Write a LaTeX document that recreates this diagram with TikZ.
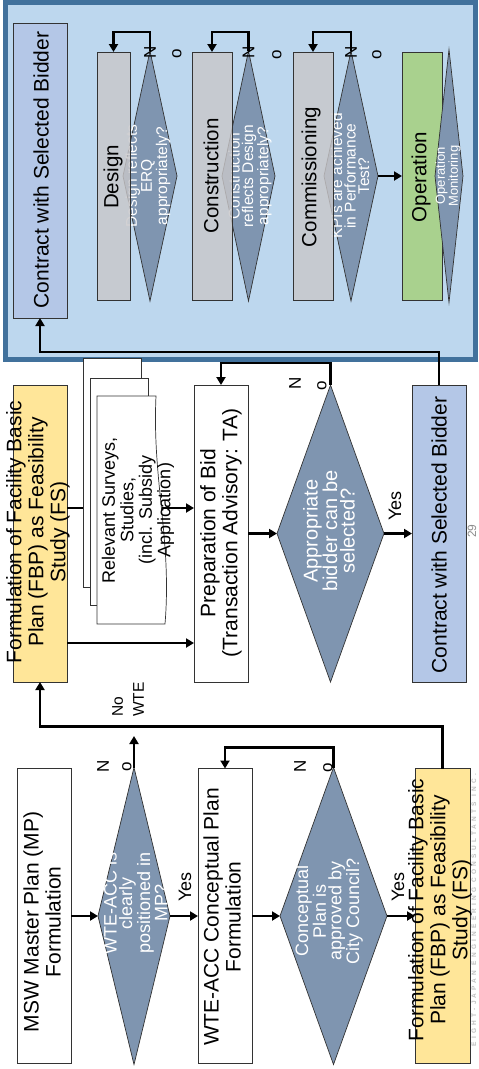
\documentclass[tikz,border=0pt]{standalone}
\usepackage{fontspec}
\setmainfont{Liberation Sans}
\newfontfamily\wmfont[LetterSpace=50]{Liberation Sans}
\usetikzlibrary{arrows.meta,shapes.geometric,calc}
\definecolor{diafill}{RGB}{127,149,176}
\definecolor{yel}{RGB}{255,230,153}
\definecolor{bluebox}{RGB}{180,199,231}
\definecolor{panelfill}{RGB}{189,215,238}
\definecolor{panelborder}{RGB}{65,113,156}
\definecolor{grayb}{RGB}{201,199,201}
\definecolor{greenb}{RGB}{169,209,142}
\newcommand\fsBig{\fontsize{21}{22}\selectfont}
\newcommand\fsDia{\fontsize{18}{15.5}\selectfont}
\newcommand\fsDiaB{\fontsize{20}{17.5}\selectfont}
\newcommand\fsDoc{\fontsize{18}{18.5}\selectfont}
\newcommand\fsPd{\fontsize{15.5}{13.5}\selectfont}
\newcommand\fsPbox{\fontsize{20.5}{22}\selectfont}
\newcommand\fsOpm{\fontsize{13}{13}\selectfont}
\newcommand\fsN{\fontsize{17}{17}\selectfont}
\newcommand\fsYes{\fontsize{18}{18}\selectfont}
\newcommand\fsNo{\fontsize{15.5}{21}\selectfont}
\tikzset{
 shp/.style={draw=black!80, line width=0.7pt, inner sep=0pt, outer sep=0pt},
 rbox/.style={shp, rectangle},
 dbox/.style={shp, diamond, fill=diafill},
 lbl/.style={rotate=90, align=center, inner sep=0pt, text=black},
 wlbl/.style={lbl, text=white},
 conn/.style={line width=2.6pt, draw=black},
 arr/.style={conn, -{Triangle[length=8pt,width=9pt]}},
}
\begin{document}
\begin{tikzpicture}[x=1pt,y=-1pt]
\useasboundingbox (0,0) rectangle (479,1069);

% ---------- top panel ----------
\node[rectangle, draw=panelborder, line width=5pt, fill=panelfill, minimum width=470, minimum height=357, inner sep=0pt] (panel) at (240.5,181) {};
\node[rbox, fill=bluebox, minimum width=54, minimum height=295] (b7) at (40,170.5) {};
\node[lbl, font=\fsBig] (b7t) at (41,170) {Contract with Selected Bidder};

\node[dbox, minimum width=54, minimum height=250] (pd1) at (150,176) {};
\node[wlbl, font=\fsPd] (pd1t) at (148,176) {Design reflects\\ERQ\\appropriately?};
\node[rbox, fill=grayb, fill opacity=0.8, minimum width=33, minimum height=248] (g1) at (113.5,176) {};
\node[lbl, font=\fsPbox] (g1t) at (113,177) {Design};

\node[dbox, minimum width=53, minimum height=250] (pd2) at (248.5,176) {};
\node[wlbl, font=\fsPd] (pd2t) at (250,176) {Construction\\reflects Design\\appropriately?};
\node[rbox, fill=grayb, fill opacity=0.8, minimum width=40, minimum height=248] (g2) at (212,176) {};
\node[lbl, font=\fsPbox] (g2t) at (211,176) {Construction};

\node[dbox, minimum width=54, minimum height=250] (pd3) at (351,176) {};
\node[wlbl, font=\fsPd] (pd3t) at (350,176) {KPIs are achieved\\in Performance\\Test?};
\node[rbox, fill=grayb, fill opacity=0.8, minimum width=40, minimum height=248] (g3) at (313,176) {};
\node[lbl, font=\fsPbox] (g3t) at (311,177) {Commissioning};

\node[rbox, fill=greenb, minimum width=40, minimum height=248] (g4) at (422,176) {};
\node[lbl, font=\fsPbox] (g4t) at (421,177) {Operation};
\node[dbox, minimum width=28, minimum height=253] (pd4) at (449,176) {};
\node[wlbl, font=\fsOpm] (pd4t) at (448,176) {Operation\\Monitoring};

\draw[arr] (pd1.north) -- ++(0,-19) -| (g1.north);
\draw[arr] (pd2.north) -- ++(0,-19) -| (g2.north);
\draw[arr] (pd3.north) -- ++(0,-19) -| (g3.north);
\draw[arr] (pd3.east) -- (g4.west);
\node[lbl, font=\fsN] (pd1n) at (150,52) {N};
\node[lbl, font=\fsN] (pd1o) at (177,54) {o};
\node[lbl, font=\fsN] (pd2n) at (248.5,52) {N};
\node[lbl, font=\fsN] (pd2o) at (277,55) {o};
\node[lbl, font=\fsN] (pd3n) at (351,52) {N};
\node[lbl, font=\fsN] (pd3o) at (377,55) {o};

% ---------- middle row ----------
\node[rbox, fill=yel, minimum width=54, minimum height=297] (b4) at (40,533.5) {};
\node[lbl, font=\fsBig] (b4t) at (38,532) {Formulation of Facility Basic\\Plan (FBP) as Feasibility\\Study (FS)};

\node[rbox, fill=white, minimum width=58, minimum height=229] (s1) at (112,472.5) {};
\node[rbox, fill=white, minimum width=58, minimum height=227] (s2) at (119,491.5) {};
\coordinate (s3nw) at (97,396);
\coordinate (s3ne) at (156,396);
\coordinate (s3se) at (165,624);
\coordinate (s3sw) at (97,624);
\draw[shp, fill=white] (s3nw) -- (s3ne) .. controls (152,480) and (172,540) .. (s3se) -- (s3sw) -- cycle;
\node[lbl, font=\fsDoc] (s3t) at (138,510) {Relevant Surveys,\\Studies,\\(incl. Subsidy\\Application)};
\coordinate (s3e) at (161.5,508);
\coordinate (docrow) at (0,508);
\coordinate (fsrow) at (0,643);

\node[rbox, fill=white, minimum width=54, minimum height=297] (b5) at (221,533.5) {};
\node[lbl, font=\fsBig] (b5t) at (221,533) {Preparation of Bid\\(Transaction Advisory: TA)};
\node[dbox, minimum width=107, minimum height=297] (d3) at (330.5,533.5) {};
\node[wlbl, font=\fsDiaB] (d3t) at (329,531) {Appropriate\\bidder can be\\selected?};
\node[rbox, fill=bluebox, minimum width=54, minimum height=297] (b6) at (439,533.5) {};
\node[lbl, font=\fsBig] (b6t) at (439,535) {Contract with Selected Bidder};

\draw[conn] (b4.east |- docrow) -- (s1.west |- docrow);
\draw[arr] (s3e) -- (b5.west |- docrow);
\draw[arr] (b4.east |- fsrow) -- (b5.west |- fsrow);
\draw[arr] (b5.east) -- (d3.west);
\draw[arr] (d3.north) -- ++(0,-22) -| (b5.north);
\draw[arr] (d3.east) -- (b6.west);
\draw[arr] (b6.north) -- ++(0,-33) -| (b7.south);
\node[lbl, font=\fsN] (d3n) at (295,383) {N};
\node[lbl, font=\fsN] (d3o) at (322,386) {o};
\node[lbl, font=\fsYes] (d3y) at (395,506) {Yes};
\node[lbl, font=\fontsize{12}{12}\selectfont, text=black!45] (pg) at (472,531) {29};

% ---------- bottom row ----------
\node[rbox, fill=white, minimum width=54, minimum height=295] (b1) at (44,916) {};
\node[lbl, font=\fsBig] (b1t) at (42,922) {MSW Master Plan (MP)\\Formulation};
\node[dbox, minimum width=72, minimum height=297] (d1) at (134,916) {};
\node[wlbl, font=\fsDia] (d1t) at (135.5,903) {WTE-ACC is\\clearly\\positioned in\\MP?};
\node[rbox, fill=white, minimum width=54, minimum height=295] (b2) at (225,916) {};
\node[lbl, font=\fsBig] (b2t) at (222,917) {WTE-ACC Conceptual Plan\\Formulation};
\node[dbox, minimum width=107, minimum height=297] (d2) at (333.5,916) {};
\node[wlbl, font=\fsDia] (d2t) at (329,911) {Conceptual\\Plan is\\approved by\\City Council?};
\node[rbox, fill=yel, minimum width=55, minimum height=295] (b3) at (442.5,916) {};
\node[lbl, font=\fsBig] (b3t) at (440,910) {Formulation of Facility Basic\\Plan (FBP) as Feasibility\\Study (FS)};
\node[lbl, font=\wmfont\bfseries\fontsize{6.5}{7}\selectfont, text=black!25] (wm) at (474,910) {EIGHT-JAPAN ENGINEERING CONSULTANTS INC.};

\coordinate (d1up) at (134,736);
\draw[arr] (b1.east) -- (d1.west);
\draw[arr] (d1.north) -- (d1up);
\draw[arr] (d1.east) -- (b2.west);
\draw[arr] (b2.east) -- (d2.west);
\draw[arr] (d2.north) -- ++(0,-20) -| (b2.north);
\draw[arr] (d2.east) -- (b3.west);
\draw[arr] (b3.north) -- ++(0,-42) -| (b4.south);
\node[lbl, font=\fsN] (d1n) at (103,766) {N};
\node[lbl, font=\fsN] (d1o) at (127,767) {o};
\node[lbl, font=\fsYes] (d1y) at (185,887) {Yes};
\node[lbl, font=\fsN] (d2n) at (300,766) {N};
\node[lbl, font=\fsN] (d2o) at (328,768) {o};
\node[lbl, font=\fsYes] (d2y) at (398,887) {Yes};
\node[lbl, font=\fsNo, anchor=west, align=left] (nowte) at (128,717) {No\\WTE};
\end{tikzpicture}
\end{document}
